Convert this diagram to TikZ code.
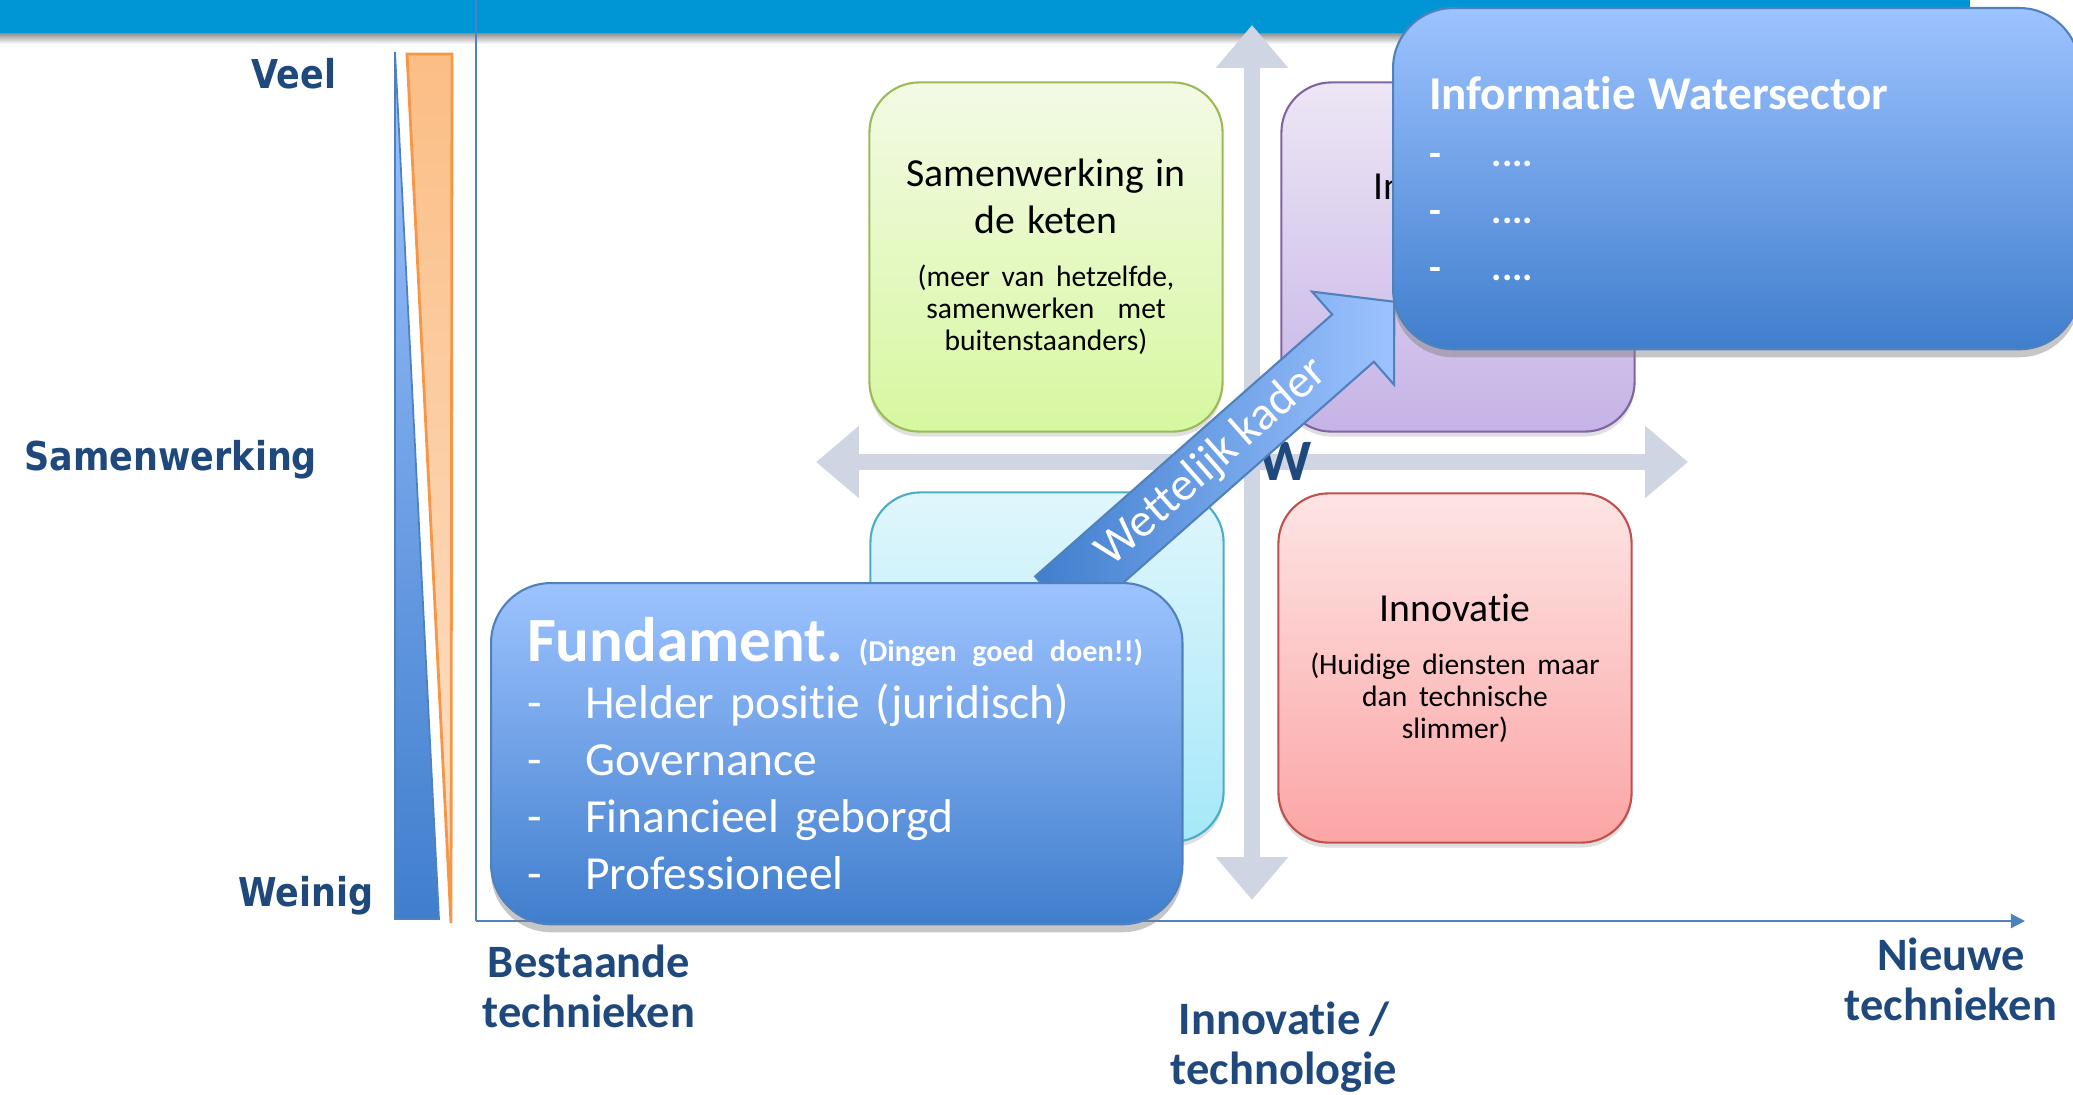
\documentclass[tikz,border=0pt]{standalone}
\usepackage{fontspec}
\setmainfont{Carlito}[RawFeature={-liga;-clig;-calt;-dlig}, WordSpace=0.85]
\newfontfamily\axisfont{DejaVu Sans Bold}[FakeStretch=0.88]
\usetikzlibrary{arrows.meta,shadows}
\setlength{\parindent}{0pt}

\definecolor{barblue}{RGB}{0,150,214}
\definecolor{navy}{RGB}{31,73,125}
\definecolor{axisblue}{RGB}{79,129,189}
\definecolor{lightblue}{RGB}{157,195,255}
\definecolor{darkblue}{RGB}{64,126,205}
\definecolor{crossgray}{RGB}{207,213,227}
\definecolor{greentop}{RGB}{243,250,229}
\definecolor{greenbot}{RGB}{215,247,160}
\definecolor{greenline}{RGB}{155,187,89}
\definecolor{purptop}{RGB}{237,230,245}
\definecolor{purpbot}{RGB}{198,179,230}
\definecolor{purpline}{RGB}{128,100,162}
\definecolor{cyantop}{RGB}{224,246,252}
\definecolor{cyanbot}{RGB}{165,232,248}
\definecolor{cyanline}{RGB}{75,172,198}
\definecolor{redtop}{RGB}{253,228,228}
\definecolor{redbot}{RGB}{252,165,165}
\definecolor{redline}{RGB}{192,80,77}
\definecolor{orangetop}{RGB}{251,190,133}
\definecolor{orangebot}{RGB}{253,226,204}
\definecolor{orangeline}{RGB}{247,150,70}

\newcommand{\dashitem}[1][0.58cm]{\makebox[#1][l]{-}}

\tikzset{
  quad/.style={draw, line width=0.6pt, rounded corners=0.5cm,
    minimum width=3.53cm, minimum height=3.49cm, inner sep=0pt,
    text width=3.4cm, align=center,
    drop shadow={opacity=0.25, shadow xshift=0pt, shadow yshift=-0.05cm}},
  bigbox/.style={draw=axisblue, line width=0.6pt, rounded corners=0.6cm,
    top color=lightblue, bottom color=darkblue, text=white,
    inner xsep=0.36cm, inner ysep=0pt, align=left, anchor=north west,
    minimum height=3.41cm,
    drop shadow={opacity=0.45, shadow xshift=0pt, shadow yshift=-0.08cm}},
  axislabel/.style={font=\axisfont\fontsize{11.3}{13}\selectfont, text=navy, inner sep=0pt},
  techlabel/.style={font=\bfseries\fontsize{13.2}{14.2}\selectfont, text=navy, align=center, inner sep=0pt},
  cross/.style={crossgray, line width=4.8pt,
    {Triangle[width=19.8pt,length=12.2pt]}-{Triangle[width=19.8pt,length=12.2pt]}}
}

\begin{document}
\begin{tikzpicture}[x=0.01cm, y=-0.01cm]
\useasboundingbox (0,0) rectangle (2073,1094);

% title bar
\fill[barblue] (0,0) rectangle (1970,34);
\shade[top color=black!40, bottom color=white] (0,34) rectangle (1970,44);

% axes
\coordinate (origin) at (476,921);
\coordinate (ytop) at (476,0);
\coordinate (xend) at (2025,921);
\draw[axisblue, line width=0.6pt] (ytop) -- (origin);
\draw[axisblue, line width=0.6pt, -{Triangle[width=4pt,length=4pt]}] (origin) -- (xend);

% wedges
\draw[draw=axisblue, line width=0.5pt, top color=lightblue, bottom color=darkblue]
  (395,52) -- (395,919) -- (439,919) -- cycle;
\draw[draw=orangeline, line width=0.8pt, top color=orangetop, bottom color=orangebot]
  (407,54) -- (452,54) -- (451,923) -- cycle;

\node[axislabel, anchor=base east] (veel) at (337,89) {Veel};
\node[axislabel, anchor=base west] (samen) at (24,470) {Samenwerking};
\node[axislabel, anchor=base east] (weinig) at (374,906) {Weinig};

\node[techlabel] (bestaand) at (589,986) {Bestaande\\technieken};
\node[techlabel] (nieuw) at (1951,979) {Nieuwe\\technieken};
\node[techlabel] (innov) at (1284,1047) {Innovatie /\\technologie};

% cross
\coordinate (ctop) at (1252,25);
\coordinate (cbot) at (1252,900);
\coordinate (cleft) at (816,462);
\coordinate (cright) at (1688,462);
\draw[cross] (ctop) -- (cbot);
\draw[cross] (cleft) -- (cright);
\node[font=\bfseries\fontsize{16.7}{18}\selectfont, text=navy, anchor=base west, inner sep=0pt] (wlabel) at (1258,480) {W};

% quadrants
\node[quad, top color=greentop, bottom color=greenbot, draw=greenline] (keten) at (1046,257)
  {{\fontsize{11.3}{13.2}\selectfont Samenwerking in\\de keten\par}\vspace{6pt}
   {\fontsize{8.4}{9.1}\selectfont (meer van hetzelfde,\\samenwerken\ \ met\\buitenstaanders)\par}};
\node[quad, top color=purptop, bottom color=purpbot, draw=purpline] (info) at (1458,257)
  {{\fontsize{11.3}{13.2}\selectfont Informatie\par}\vspace{1.0cm}\mbox{}};
\node[quad, top color=cyantop, bottom color=cyanbot, draw=cyanline] (basis) at (1047,667) {};
\node[quad, top color=redtop, bottom color=redbot, draw=redline] (innovatie) at (1455,668)
  {{\fontsize{11.3}{13.2}\selectfont Innovatie\par}\vspace{6pt}
   {\fontsize{8.4}{9.1}\selectfont (Huidige diensten maar\\dan technische\\slimmer)\par}};

% wettelijk kader
\begin{scope}[shift={(1056,600)}, rotate=41.4]
\draw[draw=axisblue, line width=0.6pt, left color=darkblue, right color=lightblue]
  (0,-31.5) -- (396,-31.5) -- (396,-62) -- (451,0) -- (396,62) -- (396,31.5) -- (0,31.5) -- cycle;
\node[rotate=41.4, text=white, font=\fontsize{13.5}{15}\selectfont, inner sep=0pt] (kader) at (208,0) {Wettelijk kader};
\end{scope}

% big boxes
\node[bigbox, minimum width=6.91cm, text width=6.19cm, font=\fontsize{13.5}{16.2}\selectfont] (fundament) at (490,582)
  {\mbox{{\bfseries\fontsize{17.9}{16.2}\selectfont Fundament.}\ {\bfseries\fontsize{8.6}{16.2}\selectfont (Dingen goed doen!!)}}\\
   \dashitem Helder positie (juridisch)\\
   \dashitem Governance\\
   \dashitem Financieel geborgd\\
   \dashitem Professioneel};
\node[bigbox, minimum width=6.86cm, text width=6.14cm, font=\bfseries\fontsize{11}{16.2}\selectfont] (watersector) at (1392,7)
  {{\fontsize{13.4}{16.2}\selectfont Informatie Watersector}\\
   \dashitem[0.5cm] ....\\
   \dashitem[0.5cm] ....\\
   \dashitem[0.5cm] ....};
\end{tikzpicture}
\end{document}
